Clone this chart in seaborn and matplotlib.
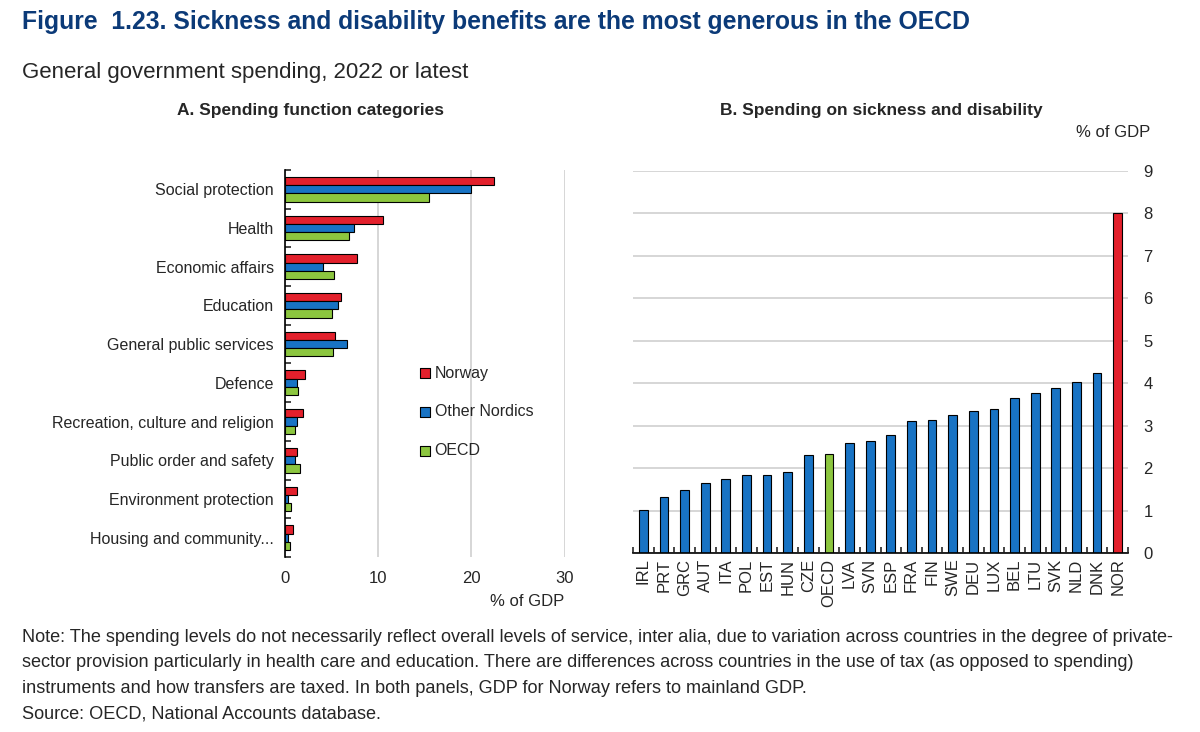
import pandas as pd
import matplotlib.pyplot as plt
import seaborn as sns

# Panel A data (% of GDP)
categories = ['Social protection', 'Health', 'Economic affairs', 'Education',
              'General public services', 'Defence', 'Recreation, culture and religion',
              'Public order and safety', 'Environment protection', 'Housing and community...']
norway = [22.4, 10.5, 7.7, 6.0, 5.4, 2.15, 1.95, 1.3, 1.25, 0.9]
other_nordics = [20.0, 7.4, 4.05, 5.7, 6.7, 1.3, 1.3, 1.1, 0.35, 0.3]
oecd = [15.5, 6.9, 5.3, 5.0, 5.1, 1.4, 1.1, 1.6, 0.6, 0.5]
series_names = ['Norway', 'Other Nordics', 'OECD']

# Panel B data (% of GDP)
countries = ['IRL', 'PRT', 'GRC', 'AUT', 'ITA', 'POL', 'EST', 'HUN', 'CZE', 'OECD',
             'LVA', 'SVN', 'ESP', 'FRA', 'FIN', 'SWE', 'DEU', 'LUX', 'BEL', 'LTU',
             'SVK', 'NLD', 'DNK', 'NOR']
sickness = [1.02, 1.31, 1.48, 1.65, 1.75, 1.84, 1.84, 1.91, 2.30, 2.34,
            2.59, 2.63, 2.77, 3.12, 3.13, 3.24, 3.34, 3.40, 3.64, 3.77,
            3.89, 4.04, 4.24, 8.02]

RED = '#E3202C'
BLUE = '#1873C4'
GREEN = '#8CC63F'
GRID = '#D0D0D0'

sns.set_style('white')
plt.rcParams['font.family'] = ['Liberation Sans', 'DejaVu Sans']

fig = plt.figure(figsize=(12, 7.32), dpi=100)

# Panel A
df_a = pd.DataFrame({
    'Category': categories * 3,
    'Series': [s for s in series_names for _ in categories],
    'Value': norway + other_nordics + oecd,
})
ax1 = fig.add_axes([0.2375, 0.239, 0.233, 0.529])
sns.barplot(data=df_a, y='Category', x='Value', hue='Series', orient='h',
            palette=[RED, BLUE, GREEN], saturation=1, width=0.64, edgecolor='black',
            linewidth=0.8, ax=ax1, legend=False)
ax1.set_xlim(0, 30)
ax1.set_ylim(len(categories) - 0.5, -0.5)
ax1.set_xticks([0, 10, 20, 30])
ax1.xaxis.grid(True, color=GRID, linewidth=1.2)
ax1.set_axisbelow(True)
for s in ['top', 'right', 'bottom']:
    ax1.spines[s].set_visible(False)
ax1.spines['left'].set_color('black')
ax1.spines['left'].set_linewidth(1.2)
ax1.set_yticks([i + 0.5 for i in range(-1, len(categories))], minor=True)
ax1.tick_params(axis='y', which='minor', length=4, width=1.2, direction='in', left=True)
ax1.tick_params(axis='y', which='major', length=0, labelsize=11.5, pad=8)
ax1.tick_params(axis='x', length=0, labelsize=12, pad=10)
ax1.set_xlabel('')
ax1.set_ylabel('')
ax1.text(1.0, -0.115, '% of GDP', transform=ax1.transAxes, ha='right', va='center', fontsize=12)
fig.text(310 / 1200, 1 - 111 / 732, 'A. Spending function categories', fontsize=12.5,
         fontweight='bold', ha='center', va='center')

# legend
for col, name, yy in zip([RED, BLUE, GREEN], series_names, [0.475, 0.375, 0.275]):
    ax1.scatter([0.5], [yy], transform=ax1.transAxes, marker='s', s=55,
                color=col, edgecolor='black', linewidth=0.8, clip_on=False)
    ax1.text(0.535, yy, name, transform=ax1.transAxes, va='center', ha='left', fontsize=11.5)

# Panel B
df_b = pd.DataFrame({'Country': countries, 'Value': sickness})
bar_colors = {c: (RED if c == 'NOR' else GREEN if c == 'OECD' else BLUE) for c in countries}
ax2 = fig.add_axes([0.5275, 0.2445, 0.4125, 0.522])
sns.barplot(data=df_b, x='Country', y='Value', hue='Country', palette=bar_colors,
            saturation=1, width=0.42, edgecolor='black', linewidth=0.8, ax=ax2, legend=False)
ax2.set_xlim(-0.5, len(countries) - 0.5)
ax2.set_ylim(0, 9)
ax2.set_yticks(range(0, 10))
ax2.yaxis.grid(True, color=GRID, linewidth=1.2)
ax2.set_axisbelow(True)
for s in ['top', 'right', 'left']:
    ax2.spines[s].set_visible(False)
ax2.spines['bottom'].set_color('black')
ax2.spines['bottom'].set_linewidth(1.2)
ax2.set_xticks([i + 0.5 for i in range(-1, len(countries))], minor=True)
ax2.tick_params(axis='x', which='minor', length=4, width=1.2, direction='in', bottom=True)
ax2.tick_params(axis='x', which='major', length=0, labelsize=12, rotation=90, pad=4)
ax2.yaxis.set_ticks_position('right')
ax2.tick_params(axis='y', which='major', length=0, labelsize=12, pad=11)
ax2.set_xlabel('')
ax2.set_ylabel('')
ax2.text(1.045, 1.1, '% of GDP', transform=ax2.transAxes, ha='right', va='center', fontsize=12)
fig.text(881 / 1200, 1 - 111 / 732, 'B. Spending on sickness and disability', fontsize=12.5,
         fontweight='bold', ha='center', va='center')

# Titles and notes
fig.text(0.018, 0.970, 'Figure  1.23. Sickness and disability benefits are the most generous in the OECD',
         fontsize=17.8, fontweight='bold', color='#0B3A78', va='center')
fig.text(0.018, 0.901, 'General government spending, 2022 or latest', fontsize=16, va='center')
notes = [
    'Note: The spending levels do not necessarily reflect overall levels of service, inter alia, due to variation across countries in the degree of private-',
    'sector provision particularly in health care and education. There are differences across countries in the use of tax (as opposed to spending)',
    'instruments and how transfers are taxed. In both panels, GDP for Norway refers to mainland GDP.',
    'Source: OECD, National Accounts database.',
]
for i, line in enumerate(notes):
    fig.text(0.018, 1 - (637 + 25.7 * i) / 732, line, fontsize=13.1, va='center')

fig.savefig('out.png', dpi=100)
